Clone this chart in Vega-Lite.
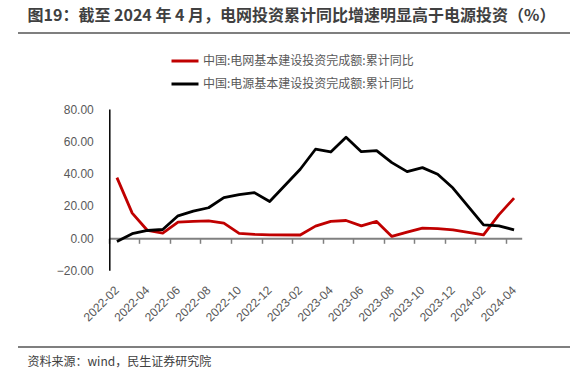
{
  "$schema": "https://vega.github.io/schema/vega-lite/v6.json",
  "autosize": {"type": "none"},
  "width": 552,
  "height": 314,
  "padding": {"left": 18, "top": 33, "right": 8, "bottom": 26},
  "background": "white",
  "config": {
    "view": {"stroke": "#7f7f7f", "strokeWidth": 2, "strokeDash": [552, 314]}
  },
  "data": {
    "values": [
      {"month": "2022-02", "series": "中国:电网基本建设投资完成额:累计同比", "value": 37.5},
      {"month": "2022-03", "series": "中国:电网基本建设投资完成额:累计同比", "value": 15.5},
      {"month": "2022-04", "series": "中国:电网基本建设投资完成额:累计同比", "value": 4.7},
      {"month": "2022-05", "series": "中国:电网基本建设投资完成额:累计同比", "value": 3.1},
      {"month": "2022-06", "series": "中国:电网基本建设投资完成额:累计同比", "value": 9.9},
      {"month": "2022-07", "series": "中国:电网基本建设投资完成额:累计同比", "value": 10.3},
      {"month": "2022-08", "series": "中国:电网基本建设投资完成额:累计同比", "value": 10.7},
      {"month": "2022-09", "series": "中国:电网基本建设投资完成额:累计同比", "value": 9.3},
      {"month": "2022-10", "series": "中国:电网基本建设投资完成额:累计同比", "value": 2.9},
      {"month": "2022-11", "series": "中国:电网基本建设投资完成额:累计同比", "value": 2.3},
      {"month": "2022-12", "series": "中国:电网基本建设投资完成额:累计同比", "value": 2.0},
      {"month": "2023-02", "series": "中国:电网基本建设投资完成额:累计同比", "value": 1.9},
      {"month": "2023-03", "series": "中国:电网基本建设投资完成额:累计同比", "value": 7.4},
      {"month": "2023-04", "series": "中国:电网基本建设投资完成额:累计同比", "value": 10.3},
      {"month": "2023-05", "series": "中国:电网基本建设投资完成额:累计同比", "value": 10.9},
      {"month": "2023-06", "series": "中国:电网基本建设投资完成额:累计同比", "value": 7.6},
      {"month": "2023-07", "series": "中国:电网基本建设投资完成额:累计同比", "value": 10.3},
      {"month": "2023-08", "series": "中国:电网基本建设投资完成额:累计同比", "value": 1.0},
      {"month": "2023-09", "series": "中国:电网基本建设投资完成额:累计同比", "value": 3.7},
      {"month": "2023-10", "series": "中国:电网基本建设投资完成额:累计同比", "value": 6.2},
      {"month": "2023-11", "series": "中国:电网基本建设投资完成额:累计同比", "value": 5.8},
      {"month": "2023-12", "series": "中国:电网基本建设投资完成额:累计同比", "value": 5.1},
      {"month": "2024-02", "series": "中国:电网基本建设投资完成额:累计同比", "value": 2.0},
      {"month": "2024-03", "series": "中国:电网基本建设投资完成额:累计同比", "value": 14.4},
      {"month": "2024-04", "series": "中国:电网基本建设投资完成额:累计同比", "value": 24.8},
      {"month": "2022-02", "series": "中国:电源基本建设投资完成额:累计同比", "value": -2.1},
      {"month": "2022-03", "series": "中国:电源基本建设投资完成额:累计同比", "value": 2.7},
      {"month": "2022-04", "series": "中国:电源基本建设投资完成额:累计同比", "value": 4.7},
      {"month": "2022-05", "series": "中国:电源基本建设投资完成额:累计同比", "value": 5.3},
      {"month": "2022-06", "series": "中国:电源基本建设投资完成额:累计同比", "value": 13.8},
      {"month": "2022-07", "series": "中国:电源基本建设投资完成额:累计同比", "value": 16.7},
      {"month": "2022-08", "series": "中国:电源基本建设投资完成额:累计同比", "value": 18.8},
      {"month": "2022-09", "series": "中国:电源基本建设投资完成额:累计同比", "value": 25.1},
      {"month": "2022-10", "series": "中国:电源基本建设投资完成额:累计同比", "value": 27.0},
      {"month": "2022-11", "series": "中国:电源基本建设投资完成额:累计同比", "value": 28.2},
      {"month": "2022-12", "series": "中国:电源基本建设投资完成额:累计同比", "value": 22.7},
      {"month": "2023-02", "series": "中国:电源基本建设投资完成额:累计同比", "value": 42.7},
      {"month": "2023-03", "series": "中国:电源基本建设投资完成额:累计同比", "value": 55.1},
      {"month": "2023-04", "series": "中国:电源基本建设投资完成额:累计同比", "value": 53.4},
      {"month": "2023-05", "series": "中国:电源基本建设投资完成额:累计同比", "value": 62.5},
      {"month": "2023-06", "series": "中国:电源基本建设投资完成额:累计同比", "value": 53.6},
      {"month": "2023-07", "series": "中国:电源基本建设投资完成额:累计同比", "value": 54.2},
      {"month": "2023-08", "series": "中国:电源基本建设投资完成额:累计同比", "value": 46.8},
      {"month": "2023-09", "series": "中国:电源基本建设投资完成额:累计同比", "value": 41.2},
      {"month": "2023-10", "series": "中国:电源基本建设投资完成额:累计同比", "value": 43.7},
      {"month": "2023-11", "series": "中国:电源基本建设投资完成额:累计同比", "value": 39.6},
      {"month": "2023-12", "series": "中国:电源基本建设投资完成额:累计同比", "value": 31.0},
      {"month": "2024-02", "series": "中国:电源基本建设投资完成额:累计同比", "value": 8.2},
      {"month": "2024-03", "series": "中国:电源基本建设投资完成额:累计同比", "value": 7.6},
      {"month": "2024-04", "series": "中国:电源基本建设投资完成额:累计同比", "value": 5.1}
    ]
  },
  "mark": {"type": "line", "strokeWidth": 2.8, "strokeJoin": "round"},
  "encoding": {
    "x": {
      "field": "month",
      "type": "ordinal",
      "bandPosition": 0.5,
      "scale": {
        "type": "band",
        "domain": ["2022-02","2022-03","2022-04","2022-05","2022-06","2022-07","2022-08","2022-09","2022-10","2022-11","2022-12","2023-01","2023-02","2023-03","2023-04","2023-05","2023-06","2023-07","2023-08","2023-09","2023-10","2023-11","2023-12","2024-01","2024-02","2024-03","2024-04"],
        "range": [91.3, 503.7],
        "paddingInner": 0,
        "paddingOuter": 0
      },
      "axis": {
        "orient": "bottom",
        "offset": -108.7,
        "values": ["2022-02","2022-04","2022-06","2022-08","2022-10","2022-12","2023-02","2023-04","2023-06","2023-08","2023-10","2023-12","2024-02","2024-04"],
        "bandPosition": 0,
        "ticks": true,
        "tickSize": 5,
        "tickColor": "#808080",
        "tickWidth": 1.5,
        "domain": true,
        "domainColor": "#808080",
        "domainWidth": 2,
        "grid": false,
        "labelAngle": -45,
        "labelAlign": "right",
        "labelBaseline": "middle",
        "labelOverlap": false,
        "labelPadding": 44.5,
        "labelOffset": 0,
        "labelFontSize": 12,
        "labelFont": "Liberation Sans",
        "labelColor": "#595959",
        "title": "资料来源：wind，民生证券研究院",
        "titleX": 9,
        "titleY": 127.2,
        "titleAlign": "left",
        "titleAnchor": "start",
        "titleBaseline": "alphabetic",
        "titleFontSize": 12,
        "titleFontWeight": "normal",
        "titleFont": "Noto Sans CJK SC",
        "titleColor": "#404040"
      }
    },
    "y": {
      "field": "value",
      "type": "quantitative",
      "scale": {"domain": [-20, 80], "range": [237.3, 76.1], "nice": false, "zero": false},
      "axis": {
        "orient": "left",
        "offset": -91.3,
        "values": [-20, 0, 20, 40, 60, 80],
        "format": ".2f",
        "ticks": false,
        "grid": false,
        "domainColor": "#000000",
        "domainWidth": 1.5,
        "labelPadding": 16,
        "labelFontSize": 12,
        "labelFont": "Liberation Sans",
        "labelColor": "#595959",
        "title": "图19：截至 2024 年 4 月，电网投资累计同比增速明显高于电源投资（%）",
        "titleAngle": 0,
        "titleX": -82.3,
        "titleY": -13,
        "titleAlign": "left",
        "titleAnchor": "start",
        "titleBaseline": "alphabetic",
        "titleFontSize": 16,
        "titleFontWeight": "bold",
        "titleFont": "Noto Sans CJK SC",
        "titleColor": "#404040",
        "titleLimit": 600
      }
    },
    "color": {
      "field": "series",
      "type": "nominal",
      "scale": {
        "domain": ["中国:电网基本建设投资完成额:累计同比", "中国:电源基本建设投资完成额:累计同比"],
        "range": ["#C00000", "#000000"]
      },
      "legend": {
        "orient": "none",
        "legendX": 152,
        "legendY": 13,
        "direction": "vertical",
        "title": null,
        "symbolType": "stroke",
        "symbolSize": 729,
        "symbolStrokeWidth": 3,
        "labelFontSize": 12,
        "labelFont": "Noto Sans CJK SC",
        "labelColor": "#595959",
        "labelOffset": 3,
        "labelLimit": 400,
        "rowPadding": 2,
        "padding": 0
      }
    }
  }
}
